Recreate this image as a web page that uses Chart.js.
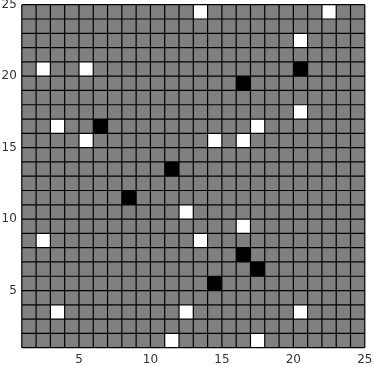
<!DOCTYPE html>
<html>
<head>
<meta charset="utf-8">
<script src="https://cdn.jsdelivr.net/npm/chart.js@4/dist/chart.umd.min.js"></script>
<style>
  html, body { margin: 0; padding: 0; background: #ffffff; }
  #wrap { width: 373px; height: 367px; }
</style>
</head>
<body>
<div id="wrap"><canvas id="c"></canvas></div>
<script>
// Grid extent (cells span [v, v+1])
const gridMin = 1;
const gridMax = 25;
// Tick labels
const tickValues = [5, 10, 15, 20, 25];
// White cells (lower-left corners)
const whiteX = [13, 22, 20, 2, 5, 20, 3, 17, 5, 14, 16, 12, 16, 2, 13, 3, 12, 20, 11, 17];
const whiteY = [24, 24, 22, 20, 20, 17, 16, 16, 15, 15, 15, 10, 9, 8, 8, 3, 3, 3, 1, 1];
// Black cells (lower-left corners)
const blackX = [20, 16, 6, 11, 8, 16, 17, 14];
const blackY = [20, 19, 16, 13, 11, 7, 6, 5];

const toPts = (xs, ys) => xs.map((x, i) => ({ x: x, y: ys[i] }));

const cellPlugin = {
  id: 'cells',
  beforeDatasetsDraw(chart) {
    const ctx = chart.ctx;
    const xs = chart.scales.x, ys = chart.scales.y;
    const rect = (x, y) => {
      const x0 = xs.getPixelForValue(x), x1 = xs.getPixelForValue(x + 1);
      const y0 = ys.getPixelForValue(y + 1), y1 = ys.getPixelForValue(y);
      return [x0, y0, x1 - x0, y1 - y0];
    };
    ctx.save();
    const bx = xs.getPixelForValue(gridMin), by = ys.getPixelForValue(gridMax);
    const bw = xs.getPixelForValue(gridMax) - bx, bh = ys.getPixelForValue(gridMin) - by;
    ctx.fillStyle = '#808080';
    ctx.fillRect(bx, by, bw, bh);
    chart.data.datasets.forEach(ds => {
      ctx.fillStyle = ds.cellColor;
      ds.data.forEach(p => {
        const r = rect(p.x, p.y);
        ctx.fillRect(r[0], r[1], r[2], r[3]);
      });
    });
    ctx.strokeStyle = '#000000';
    ctx.lineWidth = 1.2;
    ctx.beginPath();
    for (let v = gridMin; v <= gridMax; v++) {
      const px = xs.getPixelForValue(v);
      ctx.moveTo(px, by);
      ctx.lineTo(px, by + bh);
      const py = ys.getPixelForValue(v);
      ctx.moveTo(bx, py);
      ctx.lineTo(bx + bw, py);
    }
    ctx.stroke();
    ctx.restore();
  }
};

const tickFont = { family: 'DejaVu Sans', size: 12 };

new Chart(document.getElementById('c'), {
  type: 'scatter',
  data: {
    datasets: [
      { label: 'white', data: toPts(whiteX, whiteY), cellColor: '#ffffff', pointRadius: 0 },
      { label: 'black', data: toPts(blackX, blackY), cellColor: '#000000', pointRadius: 0 }
    ]
  },
  options: {
    responsive: true,
    maintainAspectRatio: false,
    animation: false,
    events: [],
    layout: { padding: { left: 0, right: 0, top: 4.7, bottom: 0 } },
    plugins: { legend: { display: false }, tooltip: { enabled: false } },
    scales: {
      x: {
        type: 'linear', min: gridMin, max: gridMax,
        grid: { display: false, drawTicks: false },
        border: { display: false },
        afterBuildTicks: (s) => { s.ticks = tickValues.map(v => ({ value: v })); },
        afterFit: (s) => { s.height = 19.3; s.paddingRight = 8.2; },
        ticks: { color: '#333333', font: tickFont, padding: 5, maxRotation: 0, autoSkip: false }
      },
      y: {
        type: 'linear', min: gridMin, max: gridMax,
        grid: { display: false, drawTicks: false },
        border: { display: false },
        afterBuildTicks: (s) => { s.ticks = tickValues.map(v => ({ value: v })); },
        afterFit: (s) => { s.width = 21.8; s.paddingTop = 0; s.paddingBottom = 0; },
        ticks: { color: '#333333', font: tickFont, padding: 5, autoSkip: false }
      }
    }
  },
  plugins: [cellPlugin]
});
</script>
</body>
</html>
